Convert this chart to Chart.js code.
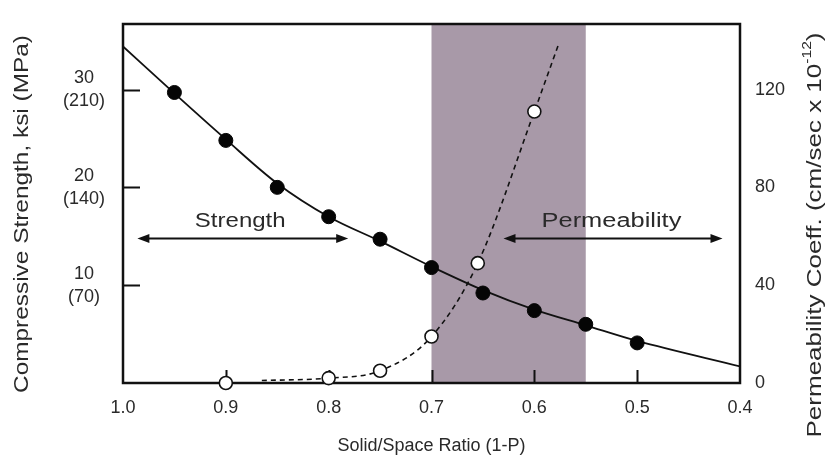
<!DOCTYPE html>
<html><head><meta charset="utf-8">
<script src="https://cdn.jsdelivr.net/npm/chart.js@4.4.1/dist/chart.umd.min.js"></script>
<style>html,body{margin:0;padding:0;background:#fff}</style>
</head><body>
<canvas id="c" width="832" height="461" style="display:block;width:832px;height:461px"></canvas>
<script>
// ---- data ----
const ratioTicks = [1.0, 0.9, 0.8, 0.7, 0.6, 0.5, 0.4];
const ksiTicks = [10, 20, 30];
const mpaTicks = ['(70)', '(140)', '(210)'];
const permTicks = [0, 40, 80, 120];

const strengthRatio = [0.95, 0.90, 0.85, 0.80, 0.75, 0.70, 0.65, 0.60, 0.55, 0.50];
const strengthKsi   = [29.7, 24.8, 20.0, 17.0, 14.7, 11.8, 9.2, 7.4, 6.0, 4.1];
const strengthCurveRatio = [1.0, 0.95, 0.90, 0.85, 0.80, 0.75, 0.70, 0.65, 0.60, 0.55, 0.50, 0.40];
const strengthCurveKsi   = [34.4, 29.6, 24.9, 20.4, 17.0, 14.5, 11.9, 9.5, 7.5, 5.9, 4.3, 1.7];

const permRatio = [0.90, 0.80, 0.75, 0.70, 0.655, 0.60];
const permCoeff = [0, 2, 5, 19, 49, 111];
const permCurveRatio = [0.865, 0.80, 0.75, 0.70, 0.655, 0.60, 0.576];
const permCurveCoeff = [1, 2, 5, 19, 49, 111, 139];

const lowPermBand = [0.70, 0.55];

const zip = (xs, ys) => xs.map((x, i) => ({x: x, y: ys[i]}));
const TXT = '#2a2a2a';
const FONT = 'Liberation Sans, Arial, sans-serif';

function verticalTitle(ctx, cx, cy, stretch, parts) {
  ctx.save();
  ctx.translate(cx, cy);
  ctx.rotate(-Math.PI / 2);
  ctx.scale(stretch, 1);
  ctx.fillStyle = TXT;
  ctx.textBaseline = 'middle';
  ctx.textAlign = 'left';
  const widths = parts.map(p => { ctx.font = p[1] + 'px ' + FONT; return ctx.measureText(p[0]).width; });
  let sx = -widths.reduce((a, b) => a + b, 0) / 2;
  parts.forEach((p, i) => { ctx.font = p[1] + 'px ' + FONT; ctx.fillText(p[0], sx, p[2]); sx += widths[i]; });
  ctx.restore();
}

function wideLabel(ctx, text, cx, cy, stretch) {
  ctx.save();
  ctx.translate(cx, cy);
  ctx.scale(stretch, 1);
  ctx.fillStyle = TXT;
  ctx.font = '20px ' + FONT;
  ctx.textAlign = 'center';
  ctx.textBaseline = 'middle';
  ctx.fillText(text, 0, 0);
  ctx.restore();
}

const decor = {
  id: 'decor',
  beforeDatasetsDraw(chart) {
    const {ctx, chartArea: a, scales: {x, y}} = chart;
    ctx.save();
    const bx1 = x.getPixelForValue(lowPermBand[0]);
    const bx2 = x.getPixelForValue(lowPermBand[1]);
    ctx.fillStyle = '#a899a8';
    ctx.fillRect(bx1, a.top, bx2 - bx1, a.bottom - a.top);
    ctx.strokeStyle = '#111';
    ctx.lineWidth = 2;
    ctx.beginPath();
    ratioTicks.slice(1, -1).forEach(v => {
      const px = Math.round(x.getPixelForValue(v)) + 0.5;
      ctx.moveTo(px, a.bottom); ctx.lineTo(px, a.bottom - 13);
    });
    ksiTicks.forEach(v => {
      const py = Math.round(y.getPixelForValue(v)) + 0.5;
      ctx.moveTo(a.left, py); ctx.lineTo(a.left + 17, py);
    });
    ctx.stroke();
    ctx.lineWidth = 2.5;
    ctx.strokeRect(a.left, a.top, a.right - a.left, a.bottom - a.top);
    ctx.restore();
  },
  afterDatasetsDraw(chart) {
    const {ctx, scales: {x, y}} = chart;
    wideLabel(ctx, 'Strength', x.getPixelForValue(0.886), y.getPixelForValue(16.5), 1.2);
    wideLabel(ctx, 'Permeability', x.getPixelForValue(0.525), y.getPixelForValue(16.5), 1.27);
    ctx.save();
    const arrow = (r1, r2, v) => {
      const x1 = x.getPixelForValue(r1), x2 = x.getPixelForValue(r2);
      const py = Math.round(y.getPixelForValue(v)) + 0.5;
      ctx.strokeStyle = '#111'; ctx.fillStyle = '#111'; ctx.lineWidth = 2;
      ctx.beginPath(); ctx.moveTo(x1 + 6, py); ctx.lineTo(x2 - 6, py); ctx.stroke();
      ctx.beginPath(); ctx.moveTo(x1, py); ctx.lineTo(x1 + 12, py - 4.5); ctx.lineTo(x1 + 12, py + 4.5); ctx.closePath(); ctx.fill();
      ctx.beginPath(); ctx.moveTo(x2, py); ctx.lineTo(x2 - 12, py - 4.5); ctx.lineTo(x2 - 12, py + 4.5); ctx.closePath(); ctx.fill();
    };
    arrow(0.986, 0.781, 14.8);
    arrow(0.630, 0.417, 14.8);
    ctx.restore();
  },
  afterDraw(chart) {
    const {ctx} = chart;
    verticalTitle(ctx, 22, 214, 1.22, [['Compressive Strength, ksi (MPa)', 20, 0]]);
    verticalTitle(ctx, 815, 235, 1.3, [
      ['Permeability Coeff. (cm/sec x 10', 20, 0], ['-12', 12, -7], [')', 20, 0]
    ]);
  }
};

const noPad = s => { s.paddingTop = 0; s.paddingBottom = 0; s.paddingLeft = 0; s.paddingRight = 0; };

new Chart(document.getElementById('c'), {
  type: 'scatter',
  data: {
    datasets: [
      { label: 'Strength', data: zip(strengthRatio, strengthKsi), yAxisID: 'y',
        pointRadius: 7, pointBackgroundColor: '#050505', pointBorderColor: '#050505', pointBorderWidth: 1, clip: false },
      { label: 'Permeability', data: zip(permRatio, permCoeff), yAxisID: 'y2',
        pointRadius: 6.5, pointBackgroundColor: '#ffffff', pointBorderColor: '#111', pointBorderWidth: 1.6, clip: false },
      { type: 'line', label: 'Strength fit', data: zip(strengthCurveRatio, strengthCurveKsi), yAxisID: 'y',
        borderColor: '#111', borderWidth: 1.8, pointRadius: 0, cubicInterpolationMode: 'monotone', fill: false },
      { type: 'line', label: 'Permeability fit', data: zip(permCurveRatio, permCurveCoeff), yAxisID: 'y2',
        borderColor: '#111', borderWidth: 1.6, borderDash: [5, 4], pointRadius: 0, cubicInterpolationMode: 'monotone', fill: false }
    ]
  },
  options: {
    responsive: false,
    animation: false,
    devicePixelRatio: 1,
    layout: { padding: { top: 24, left: 0, right: 0, bottom: 0 } },
    plugins: { legend: { display: false }, tooltip: { enabled: false } },
    scales: {
      x: {
        type: 'linear', reverse: true, min: 0.4, max: 1.0,
        grid: { display: false }, border: { display: false },
        ticks: {
          stepSize: 0.1, autoSkip: false, padding: 6, color: TXT,
          font: { family: FONT, size: 18 },
          callback: v => { const t = ratioTicks.find(r => Math.abs(r - v) < 1e-6); return t === undefined ? '' : t.toFixed(1); }
        },
        title: { display: true, text: 'Solid/Space Ratio (1-P)', color: TXT,
          font: { family: FONT, size: 18 }, padding: { top: 0, bottom: 4 } },
        afterFit: s => { s.height = 78; noPad(s); }
      },
      y: {
        type: 'linear', position: 'left', min: 0, max: 36.7,
        grid: { display: false }, border: { display: false },
        ticks: {
          stepSize: 10, includeBounds: false, crossAlign: 'center', padding: 10, color: TXT,
          font: { family: FONT, size: 18, lineHeight: 1.28 },
          callback: v => { const i = ksiTicks.indexOf(v); return i < 0 ? '' : [String(v), mpaTicks[i]]; }
        },
        title: { display: false },
        afterFit: s => { s.width = 123; noPad(s); }
      },
      y2: {
        type: 'linear', position: 'right', min: 0, max: 146.8,
        grid: { display: false, drawOnChartArea: false }, border: { display: false },
        ticks: {
          stepSize: 40, includeBounds: false, padding: 7, color: TXT,
          font: { family: FONT, size: 18 },
          callback: v => permTicks.includes(v) ? String(v) : ''
        },
        afterFit: s => { s.width = 92; noPad(s); }
      }
    }
  },
  plugins: [decor]
});
</script>
</body></html>
